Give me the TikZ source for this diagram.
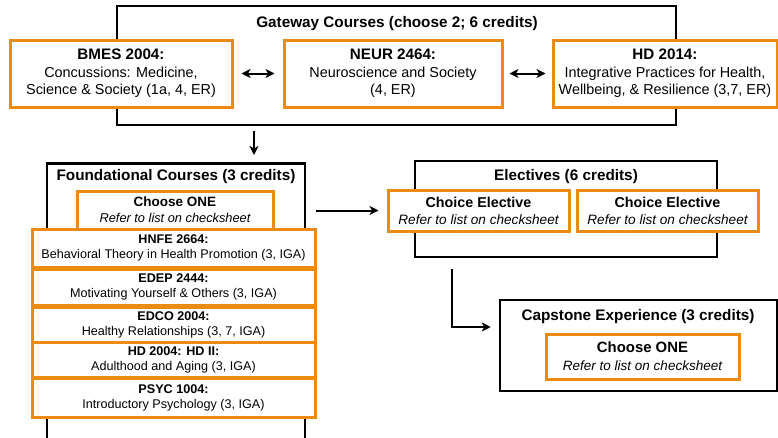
\documentclass[tikz,border=0pt]{standalone}
\usepackage{fontspec}
\setmainfont{Liberation Sans}
\usetikzlibrary{arrows.meta}
\definecolor{orng}{RGB}{235,139,18}
\begin{document}
\begin{tikzpicture}[x=1pt,y=1pt,
  grp/.style={draw=black, line width=2.5pt, fill=white, inner sep=0pt},
  obox/.style={draw=orng, line width=3pt, fill=white, inner sep=0pt, align=center},
  gtitle/.style={inner sep=0pt, font=\fontsize{15.3}{18}\selectfont\bfseries},
  gcourse/.style={obox, font=\fontsize{14.4}{17.5}\selectfont},
  fcourse/.style={obox, font=\fontsize{12.6}{15}\selectfont, minimum width=283pt},
  arr/.style={line width=2pt, -{Stealth[length=9pt,width=9pt,inset=2.5pt]}},
  darr/.style={line width=2pt, {Stealth[length=9pt,width=9pt,inset=2.5pt]}-{Stealth[length=9pt,width=9pt,inset=2.5pt]}}]
\useasboundingbox (0,0) rectangle (778,-437);
\fill[white] (0,0) rectangle (778,-437);
% Gateway
\node[grp, minimum width=559pt, minimum height=119pt] (gw) at (396.5,-65.5) {};
\node[gtitle] (gwt) at (397,-23.5) {Gateway Courses (choose 2; 6 credits)};
\node[gcourse, minimum width=222pt, minimum height=67pt] (bmes) at (121,-73.5)
  {{\fontsize{15.2}{17.5}\selectfont\bfseries BMES 2004:}\\Concussions: Medicine,\\Science \& Society (1a, 4, ER)};
\node[gcourse, minimum width=218pt, minimum height=67pt] (neur) at (393,-73.5)
  {{\fontsize{15.2}{17.5}\selectfont\bfseries NEUR 2464:}\\Neuroscience and Society\\(4, ER)};
\node[gcourse, minimum width=224pt, minimum height=67pt] (hd) at (665,-73.5)
  {{\fontsize{15.2}{17.5}\selectfont\bfseries HD 2014:}\\Integrative Practices for Health,\\Wellbeing, \& Resilience (3,7, ER)};
\draw[darr, shorten <=8pt, shorten >=8pt] (bmes.east) -- (neur.west);
\draw[darr, shorten <=6pt, shorten >=6pt] (neur.east) -- (hd.west);
% Foundational
\node[grp, minimum width=258pt, minimum height=290pt, anchor=north] (fnd) at (176,-162) {};
\node[gtitle] (fndt) at (176,-177) {Foundational Courses (3 credits)};
\node[obox, minimum width=196pt, minimum height=38pt, font=\fontsize{12.8}{16}\selectfont] (fch) at (175,-210)
  {{\fontsize{13.5}{16}\selectfont\bfseries Choose ONE}\\{\itshape Refer to list on checksheet}};
\node[fcourse, minimum height=38pt] (hnfe) at (173.5,-248)
  {\textbf{HNFE 2664:}\\Behavioral Theory in Health Promotion (3, IGA)};
\node[fcourse, minimum height=36pt] (edep) at (173.5,-287)
  {\textbf{EDEP 2444:}\\Motivating Yourself \& Others (3, IGA)};
\node[fcourse, minimum height=35pt] (edco) at (173.5,-324.5)
  {\textbf{EDCO 2004:}\\Healthy Relationships (3, 7, IGA)};
\node[fcourse, minimum height=35pt] (hdii) at (173.5,-359.5)
  {\textbf{HD 2004: HD II:}\\Adulthood and Aging (3, IGA)};
\node[fcourse, minimum height=39pt] (psyc) at (173.5,-397.5)
  {\textbf{PSYC 1004:}\\Introductory Psychology (3, IGA)};
\coordinate (dx) at (254,0);
\draw[arr, shorten <=5pt, shorten >=7pt] (gw.south -| dx) -- (fnd.north -| dx);
% Electives
\node[grp, minimum width=302pt, minimum height=96pt] (el) at (566,-209) {};
\node[gtitle] (elt) at (566,-177) {Electives (6 credits)};
\node[obox, minimum width=181pt, minimum height=41pt, font=\fontsize{13.6}{17}\selectfont] (ce1) at (478.5,-210.5)
  {{\fontsize{14.3}{17}\selectfont\bfseries Choice Elective}\\{\itshape Refer to list on checksheet}};
\node[obox, minimum width=181pt, minimum height=41pt, font=\fontsize{13.6}{17}\selectfont] (ce2) at (667.5,-210.5)
  {{\fontsize{14.3}{17}\selectfont\bfseries Choice Elective}\\{\itshape Refer to list on checksheet}};
\draw[arr, shorten <=10pt, shorten >=8pt] (fnd.east |- ce1.west) -- (ce1.west);
% Capstone
\node[grp, minimum width=277pt, minimum height=91pt] (cap) at (638.5,-345.5) {};
\node[gtitle] (capt) at (638,-317) {Capstone Experience (3 credits)};
\node[obox, minimum width=193pt, minimum height=45pt, font=\fontsize{13.5}{18}\selectfont] (cch) at (642.5,-356.5)
  {{\fontsize{14.9}{18}\selectfont\bfseries Choose ONE}\\{\itshape Refer to list on checksheet}};
\coordinate (ex) at (452,0);
\coordinate (ey) at (0,-327);
\draw[arr, shorten <=11pt, shorten >=8pt] (el.south -| ex) |- (cap.west |- ey);
\end{tikzpicture}
\end{document}
